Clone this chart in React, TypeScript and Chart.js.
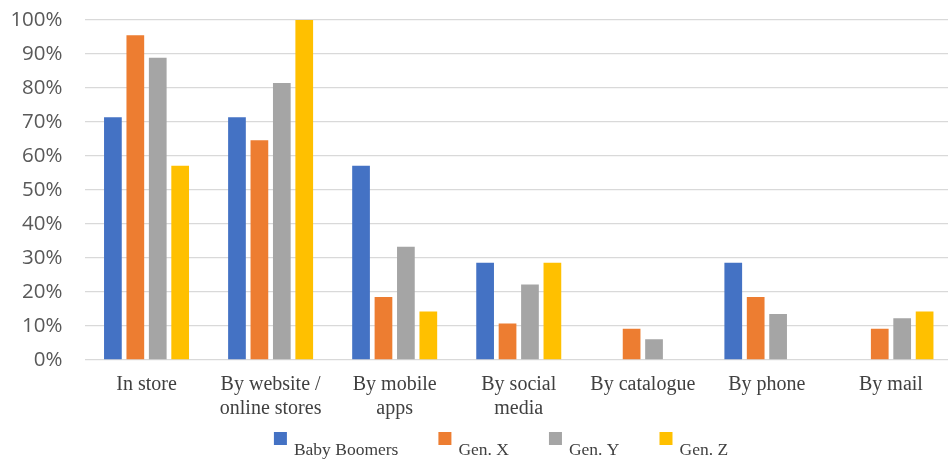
import React, { useEffect, useRef } from "react";
import { Chart, registerables } from "chart.js";

Chart.register(...registerables);

const categories: (string | string[])[] = [
  "In store",
  ["By website /", "online stores"],
  ["By mobile", "apps"],
  ["By social", "media"],
  "By catalogue",
  "By phone",
  "By mail",
];
const seriesNames = ["Baby Boomers", "Gen. X", "Gen. Y", "Gen. Z"];
const babyBoomers = [71.4, 71.4, 57.1, 28.6, 0, 28.6, 0];
const genX = [95.5, 64.6, 18.5, 10.7, 9.2, 18.5, 9.2];
const genY = [88.9, 81.5, 33.3, 22.2, 6.1, 13.5, 12.3];
const genZ = [57.1, 100, 14.3, 28.6, 0, 0, 14.3];
const colors = ["#4472C4", "#ED7D31", "#A5A5A5", "#FFC000"];
const yTicks = [0, 10, 20, 30, 40, 50, 60, 70, 80, 90, 100];

const legendPlugin = {
  id: "customLegend",
  afterDraw(chart: any) {
    const ctx = chart.ctx;
    ctx.save();
    ctx.font = '17.5px "Liberation Serif", "Times New Roman", serif';
    const boxW = 13;
    const boxH = 13;
    const gapBoxText = 7;
    const gapItems = 40;
    const widths = seriesNames.map((n) => ctx.measureText(n).width);
    const total =
      widths.reduce((a, b) => a + b, 0) +
      seriesNames.length * (boxW + gapBoxText) +
      (seriesNames.length - 1) * gapItems;
    const centerX = 501;
    let x = centerX - total / 2;
    const boxTop = 432;
    const textBase = 455;
    seriesNames.forEach((name, i) => {
      ctx.fillStyle = colors[i];
      ctx.fillRect(x, boxTop, boxW, boxH);
      x += boxW + gapBoxText;
      ctx.fillStyle = "#404040";
      ctx.textBaseline = "alphabetic";
      ctx.textAlign = "left";
      ctx.fillText(name, x, textBase);
      x += widths[i] + gapItems;
    });
    ctx.restore();
  },
};

export default function App() {
  const ref = useRef<HTMLCanvasElement>(null);
  useEffect(() => {
    if (!ref.current) return;
    const data = [babyBoomers, genX, genY, genZ];
    const chart = new Chart(ref.current, {
      type: "bar",
      data: {
        labels: categories as any,
        datasets: seriesNames.map((name, i) => ({
          label: name,
          data: data[i],
          backgroundColor: colors[i],
          borderWidth: 0,
          categoryPercentage: 0.723,
          barPercentage: 0.79,
        })),
      },
      options: {
        animation: false,
        responsive: true,
        maintainAspectRatio: false,
        layout: { padding: { top: 20, left: 0, right: 2, bottom: 0 } },
        plugins: {
          legend: { display: false },
          tooltip: { enabled: false },
        },
        scales: {
          x: {
            grid: { display: false, drawTicks: false },
            border: { display: false },
            ticks: {
              maxRotation: 0,
              minRotation: 0,
              autoSkip: false,
              padding: 13,
              color: "#404040",
              font: { family: '"Liberation Serif", "Times New Roman", serif', size: 20, lineHeight: 1.2 },
            },
            afterFit(scale: any) {
              scale.height = 99;
            },
          },
          y: {
            min: 0,
            max: 100,
            afterBuildTicks(scale: any) {
              scale.ticks = yTicks.map((v) => ({ value: v }));
            },
            grid: { color: "#D9D9D9", lineWidth: 1.3, drawTicks: false },
            border: { display: false },
            ticks: {
              padding: 22,
              color: "#595959",
              font: { family: '"Open Sans", sans-serif', size: 20.5 },
              callback: (v: any) => v + "%",
            },
            afterFit(scale: any) {
              scale.width = 84.5;
              scale.paddingTop = 0;
              scale.paddingBottom = 0;
            },
          },
        },
      },
      plugins: [legendPlugin],
    });
    return () => chart.destroy();
  }, []);
  return (
    <div style={{ position: "fixed", left: 0, top: 0, width: 948, height: 459, overflow: "hidden", background: "#fff" }}>
      <div style={{ position: "relative", width: 955, height: 459 }}>
        <canvas ref={ref} />
      </div>
    </div>
  );
}
